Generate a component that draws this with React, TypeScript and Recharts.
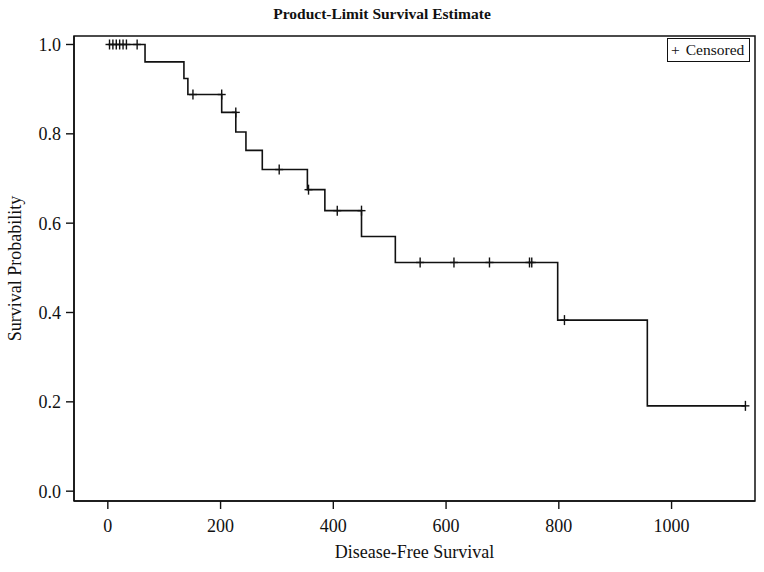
import { ComposedChart, Line, Scatter, XAxis, YAxis, ReferenceArea } from 'recharts'

// Kaplan-Meier steps (time where the level starts, survival level)
const stepTimes = [0, 66, 135, 142, 202, 227, 245, 274, 354, 385, 450, 510, 798, 957, 1131]
const stepSurvival = [1, 0.961, 0.924, 0.888, 0.848, 0.804, 0.763, 0.72, 0.675, 0.628, 0.57, 0.512, 0.383, 0.191, 0.191]

// censored observations
const censorTimes = [3, 9, 15, 21, 27, 33, 52, 151, 202, 227, 304, 356, 407, 450, 554, 614, 677, 748, 752, 810, 1131]
const censorSurvival = [1, 1, 1, 1, 1, 1, 1, 0.888, 0.888, 0.848, 0.72, 0.675, 0.628, 0.628, 0.512, 0.512, 0.512, 0.512, 0.512, 0.383, 0.191]

const xTicks = [0, 200, 400, 600, 800, 1000]
const yTicks = [0, 0.2, 0.4, 0.6, 0.8, 1]
const xDomain = [-60, 1148]
const yDomain = [-0.022, 1.019]

const FONT = "'Liberation Serif', 'Times New Roman', serif"
const INK = '#111'

const curve = stepTimes.map((t, i) => ({ t, s: stepSurvival[i] }))
const censored = censorTimes.map((t, i) => ({ t, s: censorSurvival[i] }))

const PlusMark = (props: any) => {
  const { cx, cy } = props
  if (cx == null || cy == null) return null
  return (
    <g stroke={INK} strokeWidth={1.4}>
      <line x1={cx} x2={cx} y1={cy - 5} y2={cy + 5} />
      <line x1={cx - 4} x2={cx + 4} y1={cy} y2={cy} />
    </g>
  )
}

export default function App() {
  return (
    <div style={{ position: 'absolute', left: 0, top: 0, width: 764, height: 572, background: '#fff', fontFamily: FONT }}>
      <div
        style={{
          position: 'absolute',
          left: 0,
          width: 764,
          top: 5,
          textAlign: 'center',
          fontWeight: 'bold',
          fontSize: 15.5,
          color: INK
        }}
      >
        Product-Limit Survival Estimate
      </div>
      <ComposedChart width={764} height={572} margin={{ top: 36, right: 9, left: 0, bottom: 0 }}>
        <XAxis
          type="number"
          dataKey="t"
          domain={xDomain}
          ticks={xTicks}
          allowDataOverflow
          height={71}
          tickSize={8}
          tickMargin={10}
          tick={{ fontSize: 18, fill: INK, fontFamily: FONT }}
          tickLine={{ stroke: INK, strokeWidth: 1.4 }}
          axisLine={{ stroke: INK, strokeWidth: 1.5 }}
          label={{ value: 'Disease-Free Survival', position: 'insideBottom', offset: 14, fontSize: 18, fill: INK, fontFamily: FONT }}
        />
        <YAxis
          type="number"
          dataKey="s"
          domain={yDomain}
          ticks={yTicks}
          allowDataOverflow
          width={74}
          tickSize={8}
          tickMargin={5}
          tickFormatter={(v: number) => v.toFixed(1)}
          tick={{ fontSize: 18, fill: INK, fontFamily: FONT }}
          tickLine={{ stroke: INK, strokeWidth: 1.4 }}
          axisLine={{ stroke: INK, strokeWidth: 1.5 }}
          label={{ value: 'Survival Probability', angle: -90, position: 'insideLeft', offset: 15, fontSize: 18, fill: INK, fontFamily: FONT, style: { textAnchor: 'middle' } }}
        />
        <ReferenceArea
          x1={xDomain[0]}
          x2={xDomain[1]}
          y1={yDomain[0]}
          y2={yDomain[1]}
          fill="none"
          stroke={INK}
          strokeWidth={1.5}
          ifOverflow="visible"
        />
        <Line
          data={curve}
          dataKey="s"
          type="stepAfter"
          stroke={INK}
          strokeWidth={1.6}
          dot={false}
          activeDot={false}
          isAnimationActive={false}
        />
        <Scatter data={censored} dataKey="s" shape={PlusMark} isAnimationActive={false} />
      </ComposedChart>
      <div
        style={{
          position: 'absolute',
          left: 667,
          top: 38,
          width: 78,
          height: 22,
          border: `1px solid ${INK}`,
          fontSize: 15.5,
          color: INK,
          lineHeight: '22px',
          paddingLeft: 3,
          boxSizing: 'content-box',
          whiteSpace: 'nowrap',
          display: 'flex',
          gap: 6
        }}
      >
        <span>+</span>
        <span>Censored</span>
      </div>
    </div>
  )
}
